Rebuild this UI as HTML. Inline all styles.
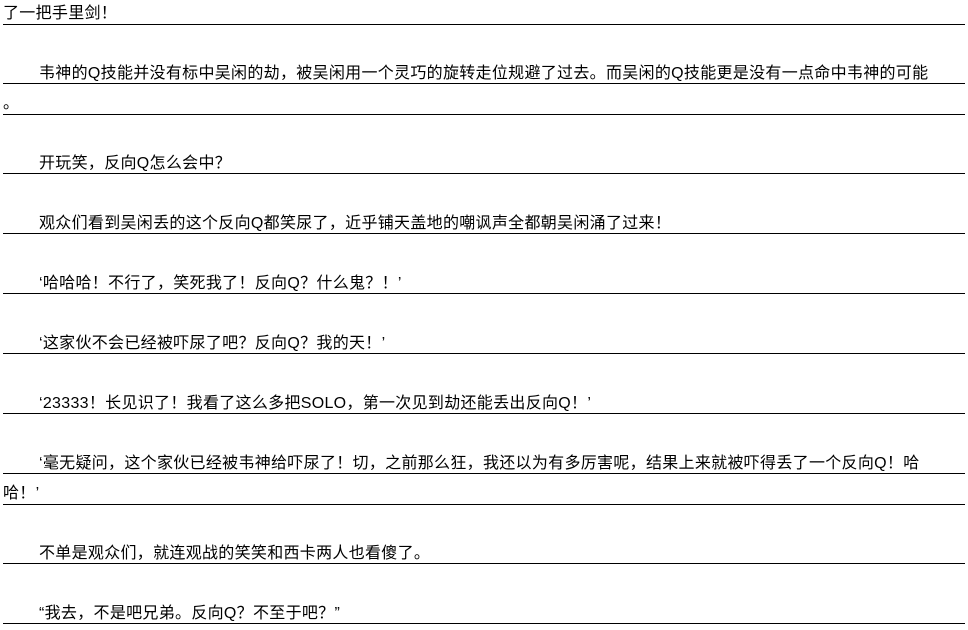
<!DOCTYPE html>
<html><head><meta charset="utf-8"><style>
html,body{margin:0;padding:0;background:#fff;width:968px;height:630px;overflow:hidden}
.l{position:absolute;left:3px;width:962px;height:20px;line-height:20px;border-bottom:1px solid #000;font-family:"Liberation Sans","Noto Sans CJK SC","WenQuanYi Zen Hei",sans-serif;font-size:16px;letter-spacing:0.3px;color:#000;white-space:nowrap;overflow:hidden}
.i{padding-left:36px;box-sizing:border-box}
</style></head><body>
<div class="l" style="top:4px">了一把手里剑！</div>
<div class="l i" style="top:64px">韦神的Q技能并没有标中吴闲的劫，被吴闲用一个灵巧的旋转走位规避了过去。而吴闲的Q技能更是没有一点命中韦神的可能</div>
<div class="l" style="top:94px">。</div>
<div class="l i" style="top:154px">开玩笑，反向Q怎么会中？</div>
<div class="l i" style="top:214px">观众们看到吴闲丢的这个反向Q都笑尿了，近乎铺天盖地的嘲讽声全都朝吴闲涌了过来！</div>
<div class="l i" style="top:274px">‘哈哈哈！不行了，笑死我了！反向Q？什么鬼？！’</div>
<div class="l i" style="top:334px">‘这家伙不会已经被吓尿了吧？反向Q？我的天！’</div>
<div class="l i" style="top:394px">‘23333！长见识了！我看了这么多把SOLO，第一次见到劫还能丢出反向Q！’</div>
<div class="l i" style="top:454px">‘毫无疑问，这个家伙已经被韦神给吓尿了！切，之前那么狂，我还以为有多厉害呢，结果上来就被吓得丢了一个反向Q！哈</div>
<div class="l" style="top:484px">哈！’</div>
<div class="l i" style="top:544px">不单是观众们，就连观战的笑笑和西卡两人也看傻了。</div>
<div class="l i" style="top:604px">“我去，不是吧兄弟。反向Q？不至于吧？”</div>
</body></html>
